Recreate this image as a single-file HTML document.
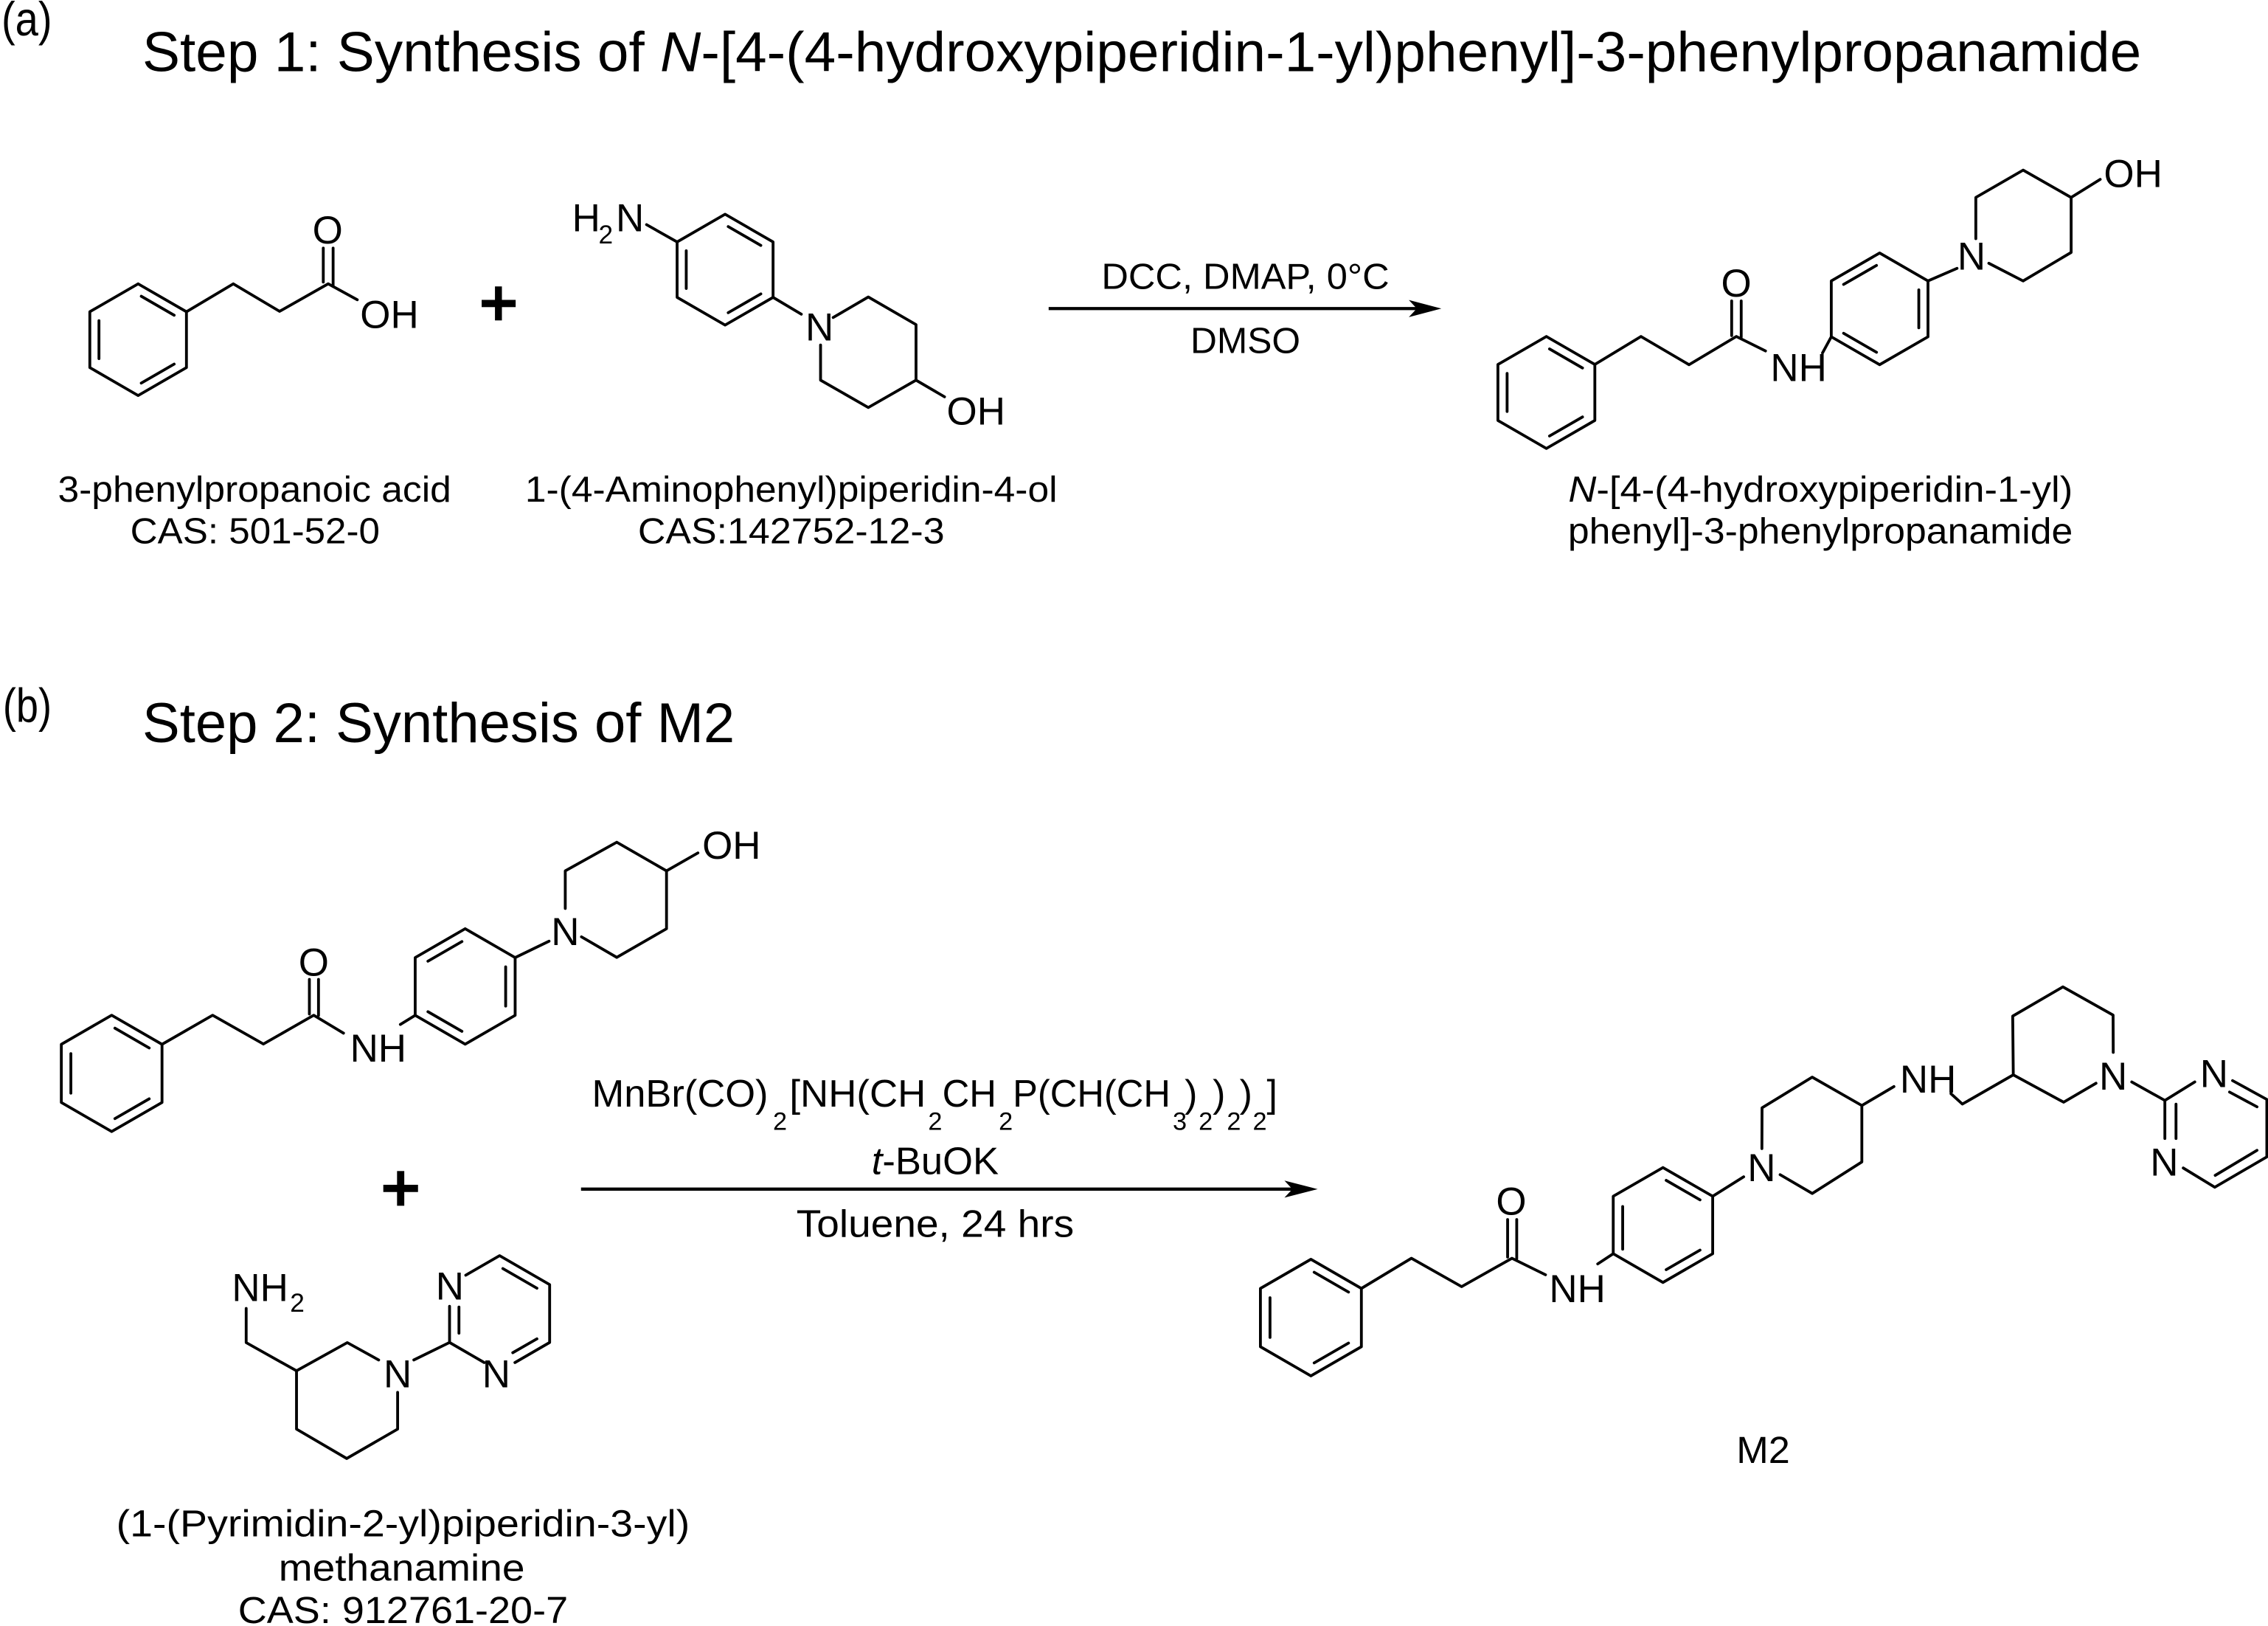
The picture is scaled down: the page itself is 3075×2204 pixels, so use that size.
<!DOCTYPE html>
<html><head><meta charset="utf-8">
<style>
html,body{margin:0;padding:0;background:#fff;overflow:hidden}
svg{display:block}
text{font-family:"Liberation Sans",Arial,Helvetica,sans-serif;fill:#000}
</style></head><body>
<svg xmlns="http://www.w3.org/2000/svg" width="3075" height="2204" viewBox="0 0 1568 1124" preserveAspectRatio="none">
<rect width="1568" height="1124" fill="#fff"/>
<g fill="none" stroke="#000" stroke-width="1.95" stroke-linecap="round" stroke-linejoin="round">
<!-- ===== Step 1: 3-phenylpropanoic acid ===== -->
<polygon points="95.5,196.2 128.9,215.5 128.9,254.1 95.5,273.4 62.1,254.1 62.1,215.5"/>
<line x1="97.67" y1="204.78" x2="120.41" y2="217.91"/>
<line x1="120.41" y1="251.69" x2="97.67" y2="264.82"/>
<line x1="68.42" y1="247.93" x2="68.42" y2="221.67"/>
<polyline points="128.9,215.5 161.3,196.2 193.3,215.2 226.9,196.2 247,207.2"/>
<line x1="223.5" y1="195" x2="223.5" y2="171.5"/>
<line x1="230.3" y1="198" x2="230.3" y2="171.5"/>
<!-- 1-(4-aminophenyl)piperidin-4-ol -->
<polygon points="501.3,148.1 534.47,167.25 534.47,205.55 501.3,224.7 468.13,205.55 468.13,167.25"/>
<line x1="503.45" y1="156.62" x2="526.01" y2="169.65"/>
<line x1="526.01" y1="203.15" x2="503.45" y2="216.18"/>
<line x1="474.44" y1="199.43" x2="474.44" y2="173.37"/>
<line x1="468.13" y1="167.25" x2="447" y2="155.3"/>
<line x1="534.47" y1="205.55" x2="554" y2="217.2"/>
<polyline points="576,219.5 600.3,205.3 633.3,224.4 633.3,262.8 600.3,281.7 567.3,262.8 567.3,238.5"/>
<line x1="633.3" y1="262.8" x2="653" y2="274.3"/>
<!-- product 1 -->
<polygon points="1069.1,232.6 1102.61,251.95 1102.61,290.65 1069.1,310 1035.59,290.65 1035.59,251.95"/>
<line x1="1071.27" y1="241.2" x2="1094.08" y2="254.37"/>
<line x1="1094.08" y1="288.23" x2="1071.27" y2="301.4"/>
<line x1="1041.95" y1="284.47" x2="1041.95" y2="258.13"/>
<polyline points="1102.61,251.95 1134.5,232.6 1167.7,252.1 1200.4,232.6 1220.6,242.6"/>
<line x1="1197.2" y1="232" x2="1197.2" y2="208"/>
<line x1="1203.8" y1="233" x2="1203.8" y2="208"/>
<line x1="1260" y1="244" x2="1266.07" y2="232.8"/>
<polygon points="1299.5,174.9 1332.93,194.2 1332.93,232.8 1299.5,252.1 1266.07,232.8 1266.07,194.2"/>
<line x1="1274.59" y1="196.61" x2="1297.33" y2="183.48"/>
<line x1="1326.58" y1="200.37" x2="1326.58" y2="226.63"/>
<line x1="1297.33" y1="243.52" x2="1274.59" y2="230.39"/>
<line x1="1332.93" y1="194.2" x2="1353" y2="185.5"/>
<polyline points="1366,165 1366,136.5 1398.7,117.6 1431.9,136.5 1431.9,174.5 1398.7,194.2 1375,182"/>
<line x1="1431.9" y1="136.5" x2="1452" y2="124"/>

<!-- ===== Step 2 reactant 1 ===== -->
<polygon points="77.2,701.8 112.01,721.9 112.01,762.1 77.2,782.2 42.39,762.1 42.39,721.9"/>
<line x1="79.46" y1="710.74" x2="103.14" y2="724.42"/>
<line x1="103.14" y1="759.58" x2="79.46" y2="773.26"/>
<line x1="49" y1="755.68" x2="49" y2="728.32"/>
<polyline points="112.01,721.9 147,701.8 182.1,721.7 216.9,701.8 237.5,714.2"/>
<line x1="213.9" y1="701" x2="213.9" y2="677"/>
<line x1="220.2" y1="702" x2="220.2" y2="677"/>
<line x1="276.8" y1="708.2" x2="287.05" y2="701.85"/>
<polygon points="321.6,642 356.15,661.95 356.15,701.85 321.6,721.8 287.05,701.85 287.05,661.95"/>
<line x1="295.85" y1="664.45" x2="319.36" y2="650.87"/>
<line x1="349.59" y1="668.33" x2="349.59" y2="695.47"/>
<line x1="319.36" y1="712.93" x2="295.85" y2="699.35"/>
<line x1="356.15" y1="661.95" x2="379.6" y2="650.6"/>
<polyline points="390.8,628 390.8,602 426.4,582.2 460.8,602 460.8,642 426.4,661.8 402,647.6"/>
<line x1="460.8" y1="602" x2="482.5" y2="589.6"/>

<!-- reactant 2 -->
<polyline points="170.2,904.5 170.2,928.1 205,947.6"/>
<polyline points="261.8,940.1 240.1,928.1 205,947.6 205,987.9 239.7,1008.2 274.9,987.9 274.9,962.5"/>
<line x1="286.1" y1="940.1" x2="310.8" y2="928"/>
<polyline points="310.8,903 310.8,928 334.8,941.9"/>
<line x1="317.3" y1="921.6" x2="317.3" y2="903.5"/>
<polyline points="322,881.5 345.4,868 380,888 380,928 356,941.9"/>
<line x1="347.65" y1="876.9" x2="371.21" y2="890.5"/>
<line x1="371.21" y1="925.5" x2="354.5" y2="935.1"/>

<!-- product M2 -->
<polygon points="906.3,870.5 941.2,890.65 941.2,930.95 906.3,951.1 871.4,930.95 871.4,890.65"/>
<line x1="908.56" y1="879.47" x2="932.3" y2="893.17"/>
<line x1="932.3" y1="928.43" x2="908.56" y2="942.13"/>
<line x1="878.03" y1="924.51" x2="878.03" y2="897.09"/>
<polyline points="941.2,890.65 975.8,869.8 1010.5,889.4 1045.3,869.8 1068.5,881.2"/>
<line x1="1042.3" y1="869" x2="1042.3" y2="843"/>
<line x1="1048.6" y1="870" x2="1048.6" y2="843"/>
<line x1="1104.6" y1="873.7" x2="1115.32" y2="866.65"/>
<polygon points="1149.7,807.1 1184.08,826.95 1184.08,866.65 1149.7,886.5 1115.32,866.65 1115.32,826.95"/>
<line x1="1151.93" y1="815.93" x2="1175.32" y2="829.43"/>
<line x1="1175.32" y1="864.17" x2="1151.93" y2="877.67"/>
<line x1="1121.85" y1="863.5" x2="1121.85" y2="834"/>
<line x1="1184.08" y1="826.95" x2="1205.5" y2="813.5"/>
<polyline points="1218.1,794 1218.2,765.8 1252.9,744.6 1287.2,764.2 1287.2,803.2 1252.9,825 1230.7,812"/>
<line x1="1287.2" y1="764.2" x2="1309.4" y2="751.1"/>
<polyline points="1348.8,756 1356.7,763.2 1391.9,743"/>
<polyline points="1449.1,748.8 1426.7,761.9 1391.9,743 1391.5,702.4 1426.2,682.2 1460.9,701.7 1461,727.5"/>
<line x1="1473.8" y1="747.9" x2="1496.7" y2="760.7"/>
<polyline points="1517.4,747.9 1496.7,760.7 1496.7,787"/>
<line x1="1504.4" y1="763.3" x2="1504.4" y2="787"/>
<polyline points="1543.5,747 1567.2,760 1567.2,799.7 1531.2,820.7 1509.4,807.4"/>
<line x1="1541.4" y1="754.9" x2="1560.4" y2="765.1"/>
<line x1="1560.4" y1="795.2" x2="1531.5" y2="812.5"/>
</g>

<!-- arrows -->
<line x1="725" y1="213.3" x2="980" y2="213.3" stroke="#000" stroke-width="2.2"/>
<polygon points="996.5,213.3 974,207.4 979.5,213.3 974,219.2" fill="#000"/>
<line x1="401.7" y1="822" x2="894" y2="822" stroke="#000" stroke-width="2.2"/>
<polygon points="911,822 888,816.1 893.5,822 888,827.9" fill="#000"/>

<!-- plus signs -->
<rect x="333" y="207.3" width="23.5" height="5" fill="#000"/>
<rect x="342.2" y="198" width="4.8" height="23.5" fill="#000"/>
<rect x="265" y="819" width="24" height="5" fill="#000"/>
<rect x="274.5" y="809.5" width="5" height="24" fill="#000"/>

<!-- ===== headings ===== -->
<text x="1" y="24.5" font-size="33" textLength="35" lengthAdjust="spacingAndGlyphs">(a)</text>
<text x="98.4" y="49.3" font-size="39" textLength="1382" lengthAdjust="spacingAndGlyphs">Step 1: Synthesis of <tspan font-style="italic">N</tspan>-[4-(4-hydroxypiperidin-1-yl)phenyl]-3-phenylpropanamide</text>
<text x="2" y="498.9" font-size="33" textLength="33.7" lengthAdjust="spacingAndGlyphs">(b)</text>
<text x="98.4" y="513" font-size="39" textLength="409.6" lengthAdjust="spacingAndGlyphs">Step 2: Synthesis of M2</text>

<!-- ===== step 1 atom labels ===== -->
<g font-size="27">
<text x="226.5" y="168.4" text-anchor="middle">O</text>
<text x="249" y="226.8">OH</text>
<text x="395.5" y="159.8">H</text>
<text x="413.8" y="168.2" font-size="18">2</text>
<text x="425.8" y="159.8">N</text>
<text x="566.6" y="235.4" text-anchor="middle">N</text>
<text x="654.5" y="293.4">OH</text>
<text x="1200.4" y="204.9" text-anchor="middle">O</text>
<text x="1224" y="263.4">NH</text>
<text x="1363" y="186.5" text-anchor="middle">N</text>
<text x="1454.5" y="129.3">OH</text>
</g>

<!-- step 1 compound labels -->
<g font-size="25">
<text x="40" y="346.8" textLength="272" lengthAdjust="spacingAndGlyphs">3-phenylpropanoic acid</text>
<text x="90.1" y="375.7" textLength="172.5" lengthAdjust="spacingAndGlyphs">CAS: 501-52-0</text>
<text x="363" y="346.8" textLength="368" lengthAdjust="spacingAndGlyphs">1-(4-Aminophenyl)piperidin-4-ol</text>
<text x="441" y="375.7" textLength="212" lengthAdjust="spacingAndGlyphs">CAS:142752-12-3</text>
<text x="1084.3" y="346.8" textLength="348.7" lengthAdjust="spacingAndGlyphs"><tspan font-style="italic">N</tspan>-[4-(4-hydroxypiperidin-1-yl)</text>
<text x="1084" y="375.7" textLength="349" lengthAdjust="spacingAndGlyphs">phenyl]-3-phenylpropanamide</text>
<text x="761.5" y="199.7" textLength="199" lengthAdjust="spacingAndGlyphs">DCC, DMAP, 0°C</text>
<text x="823" y="243.9" textLength="76" lengthAdjust="spacingAndGlyphs">DMSO</text>
</g>

<!-- ===== step 2 atom labels ===== -->
<g font-size="27">
<text x="216.9" y="674.5" text-anchor="middle">O</text>
<text x="242" y="733.8">NH</text>
<text x="390.8" y="653.4" text-anchor="middle">N</text>
<text x="485.5" y="593.6">OH</text>
<text x="160.3" y="899.3">NH</text>
<text x="200.5" y="906.8" font-size="18">2</text>
<text x="274.9" y="959" text-anchor="middle">N</text>
<text x="311" y="898.4" text-anchor="middle">N</text>
<text x="343.1" y="959" text-anchor="middle">N</text>
<text x="1044.8" y="839.8" text-anchor="middle">O</text>
<text x="1071" y="900">NH</text>
<text x="1217.9" y="816.5" text-anchor="middle">N</text>
<text x="1313.5" y="755.3">NH</text>
<text x="1461" y="753.2" text-anchor="middle">N</text>
<text x="1530.7" y="751.5" text-anchor="middle">N</text>
<text x="1496.3" y="812.7" text-anchor="middle">N</text>
<text x="1200.5" y="1011.3" font-size="26" textLength="37" lengthAdjust="spacingAndGlyphs">M2</text>
</g>

<!-- step 2 reagents -->
<g font-size="26.5">
<text x="409.2" y="764.9" textLength="121.9" lengthAdjust="spacingAndGlyphs">MnBr(CO)</text>
<text x="534.4" y="781" font-size="17.5">2</text>
<text x="545.8" y="764.9" textLength="94.3" lengthAdjust="spacingAndGlyphs">[NH(CH</text>
<text x="641.7" y="781" font-size="17.5">2</text>
<text x="651.5" y="764.9" textLength="37.4" lengthAdjust="spacingAndGlyphs">CH</text>
<text x="690.5" y="781" font-size="17.5">2</text>
<text x="700.2" y="764.9" textLength="109" lengthAdjust="spacingAndGlyphs">P(CH(CH</text>
<text x="810.8" y="781" font-size="17.5">3</text>
<text x="819" y="764.9">)</text>
<text x="828.7" y="781" font-size="17.5">2</text>
<text x="838.4" y="764.9">)</text>
<text x="848.2" y="781" font-size="17.5">2</text>
<text x="857" y="764.9">)</text>
<text x="866.1" y="781" font-size="17.5">2</text>
<text x="875.8" y="764.9">]</text>
<text x="602.6" y="811.7" textLength="87.9" lengthAdjust="spacingAndGlyphs"><tspan font-style="italic">t</tspan>-BuOK</text>
<text x="550.6" y="855" textLength="191.9" lengthAdjust="spacingAndGlyphs">Toluene, 24 hrs</text>
</g>

<!-- step 2 compound label -->
<g font-size="26">
<text x="80.4" y="1062" textLength="396.5" lengthAdjust="spacingAndGlyphs">(1-(Pyrimidin-2-yl)piperidin-3-yl)</text>
<text x="192.6" y="1092.7" textLength="170.2" lengthAdjust="spacingAndGlyphs">methanamine</text>
<text x="164.6" y="1122" textLength="228.1" lengthAdjust="spacingAndGlyphs">CAS: 912761-20-7</text>
</g>
</svg>
</body></html>
